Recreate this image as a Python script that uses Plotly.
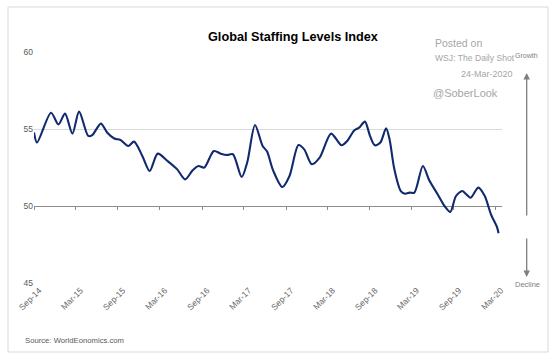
import plotly.graph_objects as go

# ---- data ----
dates = [
    "2014-09-01", "2014-09-14", "2014-11-14", "2014-12-16", "2015-01-14", "2015-02-15",
    "2015-03-16", "2015-04-25", "2015-05-12", "2015-06-19", "2015-07-16", "2015-08-16",
    "2015-09-12", "2015-10-16", "2015-11-10", "2015-12-16", "2016-01-17", "2016-02-21",
    "2016-04-04", "2016-05-16", "2016-06-19", "2016-07-22", "2016-08-16", "2016-09-10",
    "2016-10-22", "2016-11-21", "2016-12-19", "2017-01-13", "2017-02-20", "2017-03-16",
    "2017-04-19", "2017-05-22", "2017-06-10", "2017-07-07", "2017-08-16", "2017-09-16",
    "2017-10-25", "2017-11-19", "2017-12-22", "2018-01-25", "2018-03-16", "2018-04-30",
    "2018-05-25", "2018-06-25", "2018-07-16", "2018-08-10", "2018-09-01", "2018-09-22",
    "2018-10-16", "2018-11-10", "2018-11-25", "2018-12-16", "2019-01-13", "2019-02-01",
    "2019-02-21", "2019-03-13", "2019-04-19", "2019-05-16", "2019-06-22", "2019-07-22",
    "2019-08-16", "2019-09-10", "2019-10-07", "2019-10-25", "2019-11-13", "2019-12-16",
    "2020-01-13", "2020-02-09", "2020-03-07", "2020-03-13",
]
index_values = [
    54.77, 54.12, 56.06, 55.30, 56.00, 54.70,
    56.13, 54.55, 54.60, 55.35, 54.77, 54.38,
    54.29, 53.90, 54.18, 53.25, 52.28, 53.40,
    52.92, 52.38, 51.73, 52.32, 52.60, 52.49,
    53.57, 53.40, 53.31, 53.36, 51.88, 52.82,
    55.26, 53.90, 53.55, 52.30, 51.23, 51.95,
    53.96, 53.68, 52.71, 53.14, 54.70, 53.94,
    54.22, 54.92, 55.09, 55.48, 54.55, 53.94,
    54.12, 55.04, 54.33, 52.38, 50.97, 50.80,
    50.87, 50.87, 52.60, 51.69, 50.76, 50.00,
    49.61, 50.65, 50.97, 50.76, 50.54, 51.19,
    50.65, 49.46, 48.60, 48.23,
]
y_ticks = [45, 50, 55, 60]
title_text = "Global Staffing Levels Index"
source_text = "Source: WorldEonomics.com"

FONT = "Liberation Sans, Arial, sans-serif"
W, H = 560, 359
ML, MR, MT, MB = 34, 58, 52, 76
PW, PH = W - ML - MR, H - MT - MB


def px(x):
    return (x - ML) / PW


def py(y):
    return (H - MB - y) / PH


fig = go.Figure()
fig.add_trace(go.Scatter(
    x=dates, y=index_values, mode="lines",
    line=dict(color="#102a6e", width=2.1, shape="spline", smoothing=0.8),
    hoverinfo="skip", showlegend=False,
))
# invisible trace to host the axis drawn at the 50 level
fig.add_trace(go.Scatter(
    x=dates, y=index_values, mode="lines", xaxis="x2", opacity=0,
    line=dict(width=0), hoverinfo="skip", showlegend=False,
))

fig.update_layout(
    width=W, height=H,
    margin=dict(l=ML, r=MR, t=MT, b=MB, autoexpand=False),
    paper_bgcolor="white", plot_bgcolor="white",
    font=dict(family=FONT, color="#595959"),
    xaxis=dict(
        type="date", range=["2014-09-01", "2020-03-28"],
        tick0="2014-09-01", dtick="M6", tickformat="%b-%y", tickangle=-45,
        showgrid=False, zeroline=False, showline=False, ticks="",
        ticklabelshift=5,
        tickfont=dict(size=8.5, color="#666666"),
    ),
    xaxis2=dict(
        type="date", matches="x", overlaying="x", anchor="free",
        position=(50 - 45) / 15,
        tick0="2014-09-01", dtick="M6",
        showgrid=False, zeroline=False, showline=True, linecolor="#8c8c8c", linewidth=1,
        ticks="outside", ticklen=3, tickcolor="#8c8c8c", showticklabels=False,
        layer="below traces",
    ),
    yaxis=dict(
        range=[45, 60], tickvals=y_ticks, showgrid=True, gridcolor="#d9d9d9",
        zeroline=False, showline=False, ticks="",
        tickfont=dict(size=8.5, color="#595959"),
    ),
)

ann = []
ann.append(dict(text="<b>" + title_text + "</b>", x=px(293), y=py(28), xref="paper", yref="paper",
                showarrow=False, font=dict(size=12.7, color="#000000", family=FONT)))
ann.append(dict(text="Posted on", x=px(433), y=py(42.7), xref="paper", yref="paper",
                xanchor="left", yanchor="middle", showarrow=False,
                font=dict(size=10.5, color="#a6a6a6", family=FONT)))
ann.append(dict(text="WSJ: The Daily Shot", x=px(433), y=py(58.3), xref="paper", yref="paper",
                xanchor="left", yanchor="middle", showarrow=False,
                font=dict(size=8.6, color="#a6a6a6", family=FONT)))
ann.append(dict(text="24-Mar-2020", x=px(515), y=py(74.3), xref="paper", yref="paper",
                xanchor="right", yanchor="middle", showarrow=False,
                font=dict(size=9, color="#a6a6a6", family=FONT)))
ann.append(dict(text="@SoberLook", x=px(431), y=py(93.3), xref="paper", yref="paper",
                xanchor="left", yanchor="middle", showarrow=False,
                font=dict(size=11, color="#a6a6a6", family=FONT)))
ann.append(dict(text="Growth", x=px(526.5), y=py(55.7), xref="paper", yref="paper",
                xanchor="center", yanchor="middle", showarrow=False,
                font=dict(size=7, color="#7f7f7f", family=FONT)))
ann.append(dict(text="Decline", x=px(527), y=py(284.3), xref="paper", yref="paper",
                xanchor="center", yanchor="middle", showarrow=False,
                font=dict(size=7.5, color="#7f7f7f", family=FONT)))
# arrows
ann.append(dict(text="", x=px(526.7), y=py(73), xref="paper", yref="paper",
                ax=0, ay=144, showarrow=True, arrowhead=2, arrowsize=1, arrowwidth=1.3,
                arrowcolor="#7f7f7f"))
ann.append(dict(text="", x=px(526.7), y=py(277), xref="paper", yref="paper",
                ax=0, ay=-40, showarrow=True, arrowhead=2, arrowsize=1, arrowwidth=1.3,
                arrowcolor="#7f7f7f"))
ann.append(dict(text=source_text, x=px(22.7), y=py(340.7), xref="paper", yref="paper",
                xanchor="left", yanchor="middle", showarrow=False,
                font=dict(size=7.7, color="#595959", family=FONT)))
fig.update_layout(annotations=ann)

fig.add_shape(type="rect", xref="paper", yref="paper",
              x0=px(8), x1=px(548), y0=py(352), y1=py(7),
              line=dict(color="#d9d9d9", width=1), fillcolor="rgba(0,0,0,0)", layer="below")

fig.write_html(
    "out.html",
    config={"displayModeBar": False, "staticPlot": True},
    post_script="document.body.style.margin='0';document.body.style.padding='0';"
                "document.body.style.overflow='hidden';",
)
